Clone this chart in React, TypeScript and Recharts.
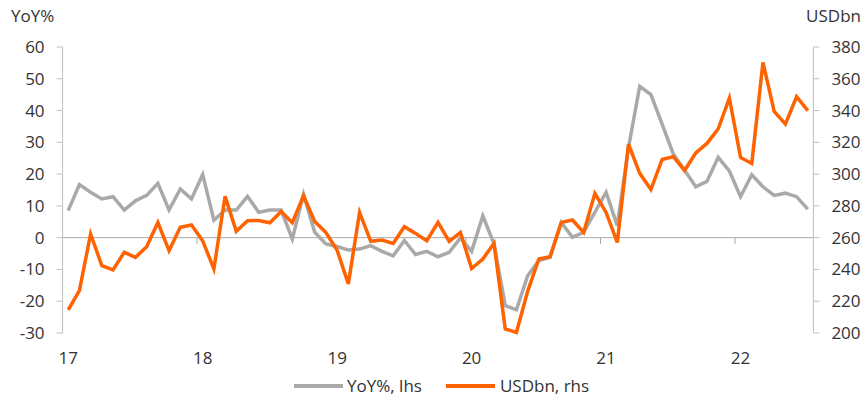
import React from "react";
import { LineChart, Line, XAxis, YAxis, ReferenceLine } from "recharts";

// monthly, Jan 2017 .. Jul 2022
const yoyPct = [
  8.5, 16.7, 14.3, 12.2, 12.9, 8.7, 11.6, 13.3, 17.1, 8.7, 15.3, 12.2,
  19.9, 5.5, 8.7, 8.7, 13.0, 8.0, 8.7, 8.7, -0.4, 13.6, 1.7, -2.0,
  -2.8, -3.9, -3.6, -2.5, -4.3, -5.7, -0.9, -5.3, -4.3, -6.0, -4.6, -0.1,
  -4.3, 6.9, -2.0, -21.4, -22.7, -12.0, -7.2, -6.2, 4.8, 0.1, 1.7, 8.0,
  14.3, 3.8, 28.4, 47.6, 45.0, 35.7, 26.3, 21.3, 16.0, 17.7, 25.3, 21.0,
  12.9, 19.8, 16.0, 13.3, 14.0, 12.9, 9.0,
];

const usdBn = [
  214.5, 226.7, 262.3, 242.4, 239.7, 250.8, 247.6, 254.3, 269.6, 251.8, 266.5, 268.0,
  258.0, 240.3, 286.0, 264.0, 270.7, 270.8, 269.4, 276.5, 269.4, 286.4, 270.2, 263.2,
  252.0, 230.9, 275.9, 257.7, 258.5, 256.4, 266.9, 262.7, 258.1, 269.6, 257.7, 263.3,
  240.6, 246.6, 256.4, 202.6, 200.3, 226.2, 246.6, 248.0, 269.6, 271.1, 263.3, 287.9,
  275.9, 257.0, 318.9, 300.5, 290.3, 309.2, 311.0, 302.3, 313.3, 319.3, 328.4, 347.9,
  310.5, 306.7, 370.3, 339.4, 331.5, 348.7, 339.9,
];

const yearLabels = ["17", "18", "19", "20", "21", "22"];
const leftTicks = [-30, -20, -10, 0, 10, 20, 30, 40, 50, 60];
const rightTicks = [200, 220, 240, 260, 280, 300, 320, 340, 360, 380];

const rows = yoyPct.map((v, i) => ({ i, yoy: v, usd: usdBn[i] }));
const yearStarts = yearLabels.map((_, k) => k * 12);

const FONT = "'Open Sans', 'DejaVu Sans', sans-serif";
const TXT = "#333";
const AXIS = "#bfbfbf";
const GREY = "#a9a9a9";
const ORANGE = "#ff6200";

export default function App() {
  const tick = { fill: TXT, fontSize: 17, fontFamily: FONT };
  return (
    <div style={{ position: "absolute", left: 0, top: 0, width: 864, height: 396, overflow: "hidden", background: "#fff", fontFamily: FONT, color: TXT }}>
      <div style={{ position: "absolute", left: 11, top: 6, fontSize: 17, lineHeight: "20px" }}>YoY%</div>
      <div style={{ position: "absolute", right: 3, top: 6, fontSize: 17, lineHeight: "20px" }}>USDbn</div>
      <LineChart width={864} height={396} data={rows} margin={{ top: 47, right: 0, bottom: 0, left: 0 }}>
        <XAxis
          dataKey="i"
          type="number"
          domain={[-0.5, 66.5]}
          ticks={yearStarts}
          tickFormatter={(v: number) => yearLabels[Math.round(v / 12)]}
          axisLine={false}
          tickLine={false}
          tickSize={6}
          tickMargin={13}
          height={63}
          tick={tick}
          allowDataOverflow
        />
        <YAxis
          yAxisId="l"
          domain={[-30, 60]}
          ticks={leftTicks}
          width={62.6}
          axisLine={{ stroke: AXIS }}
          tickLine={{ stroke: AXIS }}
          tickSize={6}
          tickMargin={12}
          tick={tick}
        />
        <YAxis
          yAxisId="r"
          orientation="right"
          domain={[200, 380]}
          ticks={rightTicks}
          width={50.6}
          axisLine={{ stroke: AXIS }}
          tickLine={{ stroke: AXIS }}
          tickSize={6}
          tickMargin={12}
          tick={tick}
        />
        <ReferenceLine yAxisId="l" y={0} stroke={GREY} strokeWidth={1} />
        {yearStarts.slice(1).map((s) => (
          <ReferenceLine
            key={s}
            yAxisId="l"
            segment={[{ x: s - 0.5, y: 0 }, { x: s - 0.5, y: -2 }]}
            stroke={GREY}
            strokeWidth={1}
          />
        ))}
        <Line yAxisId="l" type="linear" dataKey="yoy" stroke={GREY} strokeWidth={3.5} dot={false} isAnimationActive={false} />
        <Line yAxisId="r" type="linear" dataKey="usd" stroke={ORANGE} strokeWidth={3.5} dot={false} isAnimationActive={false} />
      </LineChart>
      <div style={{ position: "absolute", left: 294, top: 376, height: 20, display: "flex", alignItems: "center", fontSize: 17, lineHeight: "20px", whiteSpace: "nowrap" }}>
        <span style={{ display: "inline-block", width: 49, height: 4, background: GREY, marginRight: 4 }} />
        <span>YoY%, lhs</span>
        <span style={{ display: "inline-block", width: 49, height: 4, background: ORANGE, marginLeft: 24, marginRight: 5 }} />
        <span>USDbn, rhs</span>
      </div>
    </div>
  );
}
